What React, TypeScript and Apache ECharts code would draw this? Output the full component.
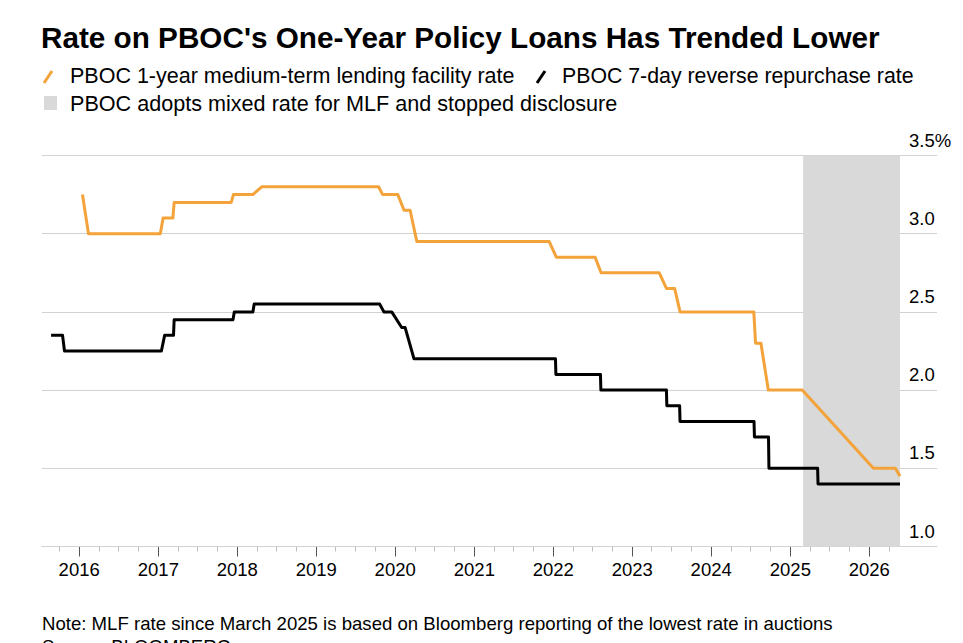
import { useEffect, useRef } from "react";
import * as echarts from "echarts";

const TITLE = "Rate on PBOC's One-Year Policy Loans Has Trended Lower";
const LEGEND_MLF = "PBOC 1-year medium-term lending facility rate";
const LEGEND_REPO = "PBOC 7-day reverse repurchase rate";
const LEGEND_BAND = "PBOC adopts mixed rate for MLF and stopped disclosure";
const NOTE =
  "Note: MLF rate since March 2025 is based on Bloomberg reporting of the lowest rate in auctions";
const SOURCE = "Source: BLOOMBERG";

// 1-year MLF rate (%)
const mlfDates = [
  "2016-01-16", "2016-02-13", "2017-01-10", "2017-01-23", "2017-03-09", "2017-03-15",
  "2017-12-04", "2017-12-14", "2018-03-14", "2018-04-24", "2019-10-16", "2019-11-04",
  "2020-01-13", "2020-02-11", "2020-03-10", "2020-04-10", "2021-12-13", "2022-01-15",
  "2022-07-13", "2022-08-10", "2023-05-06", "2023-06-08", "2023-07-16", "2023-08-10",
  "2024-07-16", "2024-07-24", "2024-08-18", "2024-09-21", "2025-02-25", "2026-01-20",
  "2026-05-01", "2026-05-23",
];
const mlfRates = [
  3.25, 3.0, 3.0, 3.1, 3.1, 3.2,
  3.2, 3.25, 3.25, 3.3, 3.3, 3.25,
  3.25, 3.15, 3.15, 2.95, 2.95, 2.85,
  2.85, 2.75, 2.75, 2.65, 2.65, 2.5,
  2.5, 2.3, 2.3, 2.0, 2.0, 1.5,
  1.5, 1.45,
];

// 7-day reverse repo rate (%)
const repoDates = [
  "2015-08-24", "2015-10-16", "2015-10-25", "2017-01-15", "2017-01-30", "2017-03-12",
  "2017-03-15", "2017-12-12", "2017-12-18", "2018-03-14", "2018-03-20", "2019-10-21",
  "2019-11-10", "2019-12-16", "2020-01-31", "2020-02-16", "2020-03-28", "2022-01-11",
  "2022-01-13", "2022-08-07", "2022-08-09", "2023-06-08", "2023-06-10", "2023-08-08",
  "2023-08-10", "2024-07-17", "2024-07-19", "2024-09-22", "2024-09-24", "2025-05-07",
  "2025-05-09", "2026-05-23",
];
const repoRates = [
  2.35, 2.35, 2.25, 2.25, 2.35, 2.35,
  2.45, 2.45, 2.5, 2.5, 2.55, 2.55,
  2.5, 2.5, 2.4, 2.4, 2.2, 2.2,
  2.1, 2.1, 2.0, 2.0, 1.9, 1.9,
  1.8, 1.8, 1.7, 1.7, 1.5, 1.5,
  1.4, 1.4,
];

// Shaded period: mixed-rate MLF, no disclosure
const bandStart = "2025-03-01";
const bandEnd = "2026-05-23";

const yearTicks = [
  "2016-01-01", "2017-01-01", "2018-01-01", "2019-01-01", "2020-01-01", "2021-01-01",
  "2022-01-01", "2023-01-01", "2024-01-01", "2025-01-01", "2026-01-01",
];
const quarterTicks = [
  "2015-10-01",
  "2016-04-01", "2016-07-01", "2016-10-01",
  "2017-04-01", "2017-07-01", "2017-10-01",
  "2018-04-01", "2018-07-01", "2018-10-01",
  "2019-04-01", "2019-07-01", "2019-10-01",
  "2020-04-01", "2020-07-01", "2020-10-01",
  "2021-04-01", "2021-07-01", "2021-10-01",
  "2022-04-01", "2022-07-01", "2022-10-01",
  "2023-04-01", "2023-07-01", "2023-10-01",
  "2024-04-01", "2024-07-01", "2024-10-01",
  "2025-04-01", "2025-07-01", "2025-10-01",
  "2026-04-01",
];

const axisStart = "2015-07-13";
const axisEnd = "2026-11-10";

const rateMin = 1.0;
const rateMax = 3.5;
const rateStep = 0.5;

// dates are plotted on a numeric (millisecond) axis
const ts = (d: string) => Date.parse(d + "T00:00:00Z");

const FONT = "'Liberation Sans', Arial, Helvetica, sans-serif";
const ORANGE = "#f3a33a";

export default function App() {
  const ref = useRef<HTMLDivElement>(null);

  useEffect(() => {
    if (!ref.current) return;
    const chart = echarts.init(ref.current, undefined, { renderer: "svg" });

    const textEl = (text: string, x: number, y: number, size: number, bold = false) => ({
      type: "text",
      x,
      y,
      silent: true,
      style: {
        text,
        fontSize: size,
        fontWeight: bold ? "bold" : "normal",
        fontFamily: FONT,
        fill: "#000",
        textAlign: "left",
        textVerticalAlign: "middle",
        verticalAlign: "middle",
      },
    });

    const xMin = ts(axisStart);
    const xMax = ts(axisEnd);

    chart.setOption({
      animation: false,
      backgroundColor: "#fff",
      grid: { left: 42, right: 26, top: 155.5, bottom: 96.5, containLabel: false },
      xAxis: [
        {
          type: "value",
          min: xMin,
          max: xMax,
          position: "bottom",
          axisLine: { show: true, lineStyle: { color: "#c8c8c8", width: 1 } },
          axisTick: {
            show: true,
            customValues: yearTicks.map(ts),
            length: 10,
            lineStyle: { color: "#555", width: 1 },
          },
          axisLabel: {
            customValues: yearTicks.map(ts),
            formatter: (v: number) => String(new Date(v).getUTCFullYear()),
            fontSize: 18.5,
            fontFamily: FONT,
            color: "#000",
            margin: 13,
          },
          splitLine: { show: false },
        },
        {
          type: "value",
          min: xMin,
          max: xMax,
          position: "bottom",
          axisLine: { show: false },
          axisTick: {
            show: true,
            customValues: quarterTicks.map(ts),
            length: 5,
            lineStyle: { color: "#bdbdbd", width: 1 },
          },
          axisLabel: { show: false },
          splitLine: { show: false },
        },
      ],
      yAxis: {
        type: "value",
        position: "right",
        min: rateMin,
        max: rateMax,
        interval: rateStep,
        z: 1,
        axisLine: { show: false },
        axisTick: { show: false },
        splitLine: { show: true, lineStyle: { color: "#d2d2d2", width: 1 } },
        axisLabel: {
          margin: -28,
          align: "left",
          verticalAlign: "bottom",
          padding: [0, 0, 6, 0],
          fontSize: 18.5,
          fontFamily: FONT,
          color: "#000",
          formatter: (v: number) => (v === rateMax ? v.toFixed(1) + "%" : v.toFixed(1)),
        },
      },
      series: [
        {
          name: "band",
          type: "line",
          data: [],
          z: 0,
          silent: true,
          markArea: {
            silent: true,
            itemStyle: { color: "#d9d9d9" },
            data: [[{ xAxis: ts(bandStart) }, { xAxis: ts(bandEnd) }]],
          },
        },
        {
          name: LEGEND_MLF,
          type: "line",
          z: 3,
          showSymbol: false,
          symbol: "none",
          lineStyle: { color: ORANGE, width: 3, join: "round" },
          data: mlfDates.map((d, i) => [ts(d), mlfRates[i]]),
        },
        {
          name: LEGEND_REPO,
          type: "line",
          z: 4,
          showSymbol: false,
          symbol: "none",
          lineStyle: { color: "#000", width: 3, join: "round" },
          data: repoDates.map((d, i) => [ts(d), repoRates[i]]),
        },
      ],
      graphic: [
        textEl(TITLE, 41, 37, 29.7, true),
        {
          type: "line",
          silent: true,
          shape: { x1: 44, y1: 83, x2: 52, y2: 71 },
          style: { stroke: ORANGE, lineWidth: 3 },
        },
        textEl(LEGEND_MLF, 70, 75.5, 21.5),
        {
          type: "line",
          silent: true,
          shape: { x1: 537, y1: 83, x2: 545, y2: 71 },
          style: { stroke: "#000", lineWidth: 3 },
        },
        textEl(LEGEND_REPO, 562, 75.5, 21.3),
        {
          type: "rect",
          silent: true,
          shape: { x: 44, y: 96, width: 13, height: 14 },
          style: { fill: "#d9d9d9" },
        },
        textEl(LEGEND_BAND, 70, 103.5, 21.6),
        textEl(NOTE, 42, 623.5, 18.6),
        textEl(SOURCE, 42, 646, 18.6),
      ],
    });

    return () => chart.dispose();
  }, []);

  return (
    <div
      ref={ref}
      style={{ position: "absolute", left: 0, top: 0, width: 963, height: 643 }}
    />
  );
}
